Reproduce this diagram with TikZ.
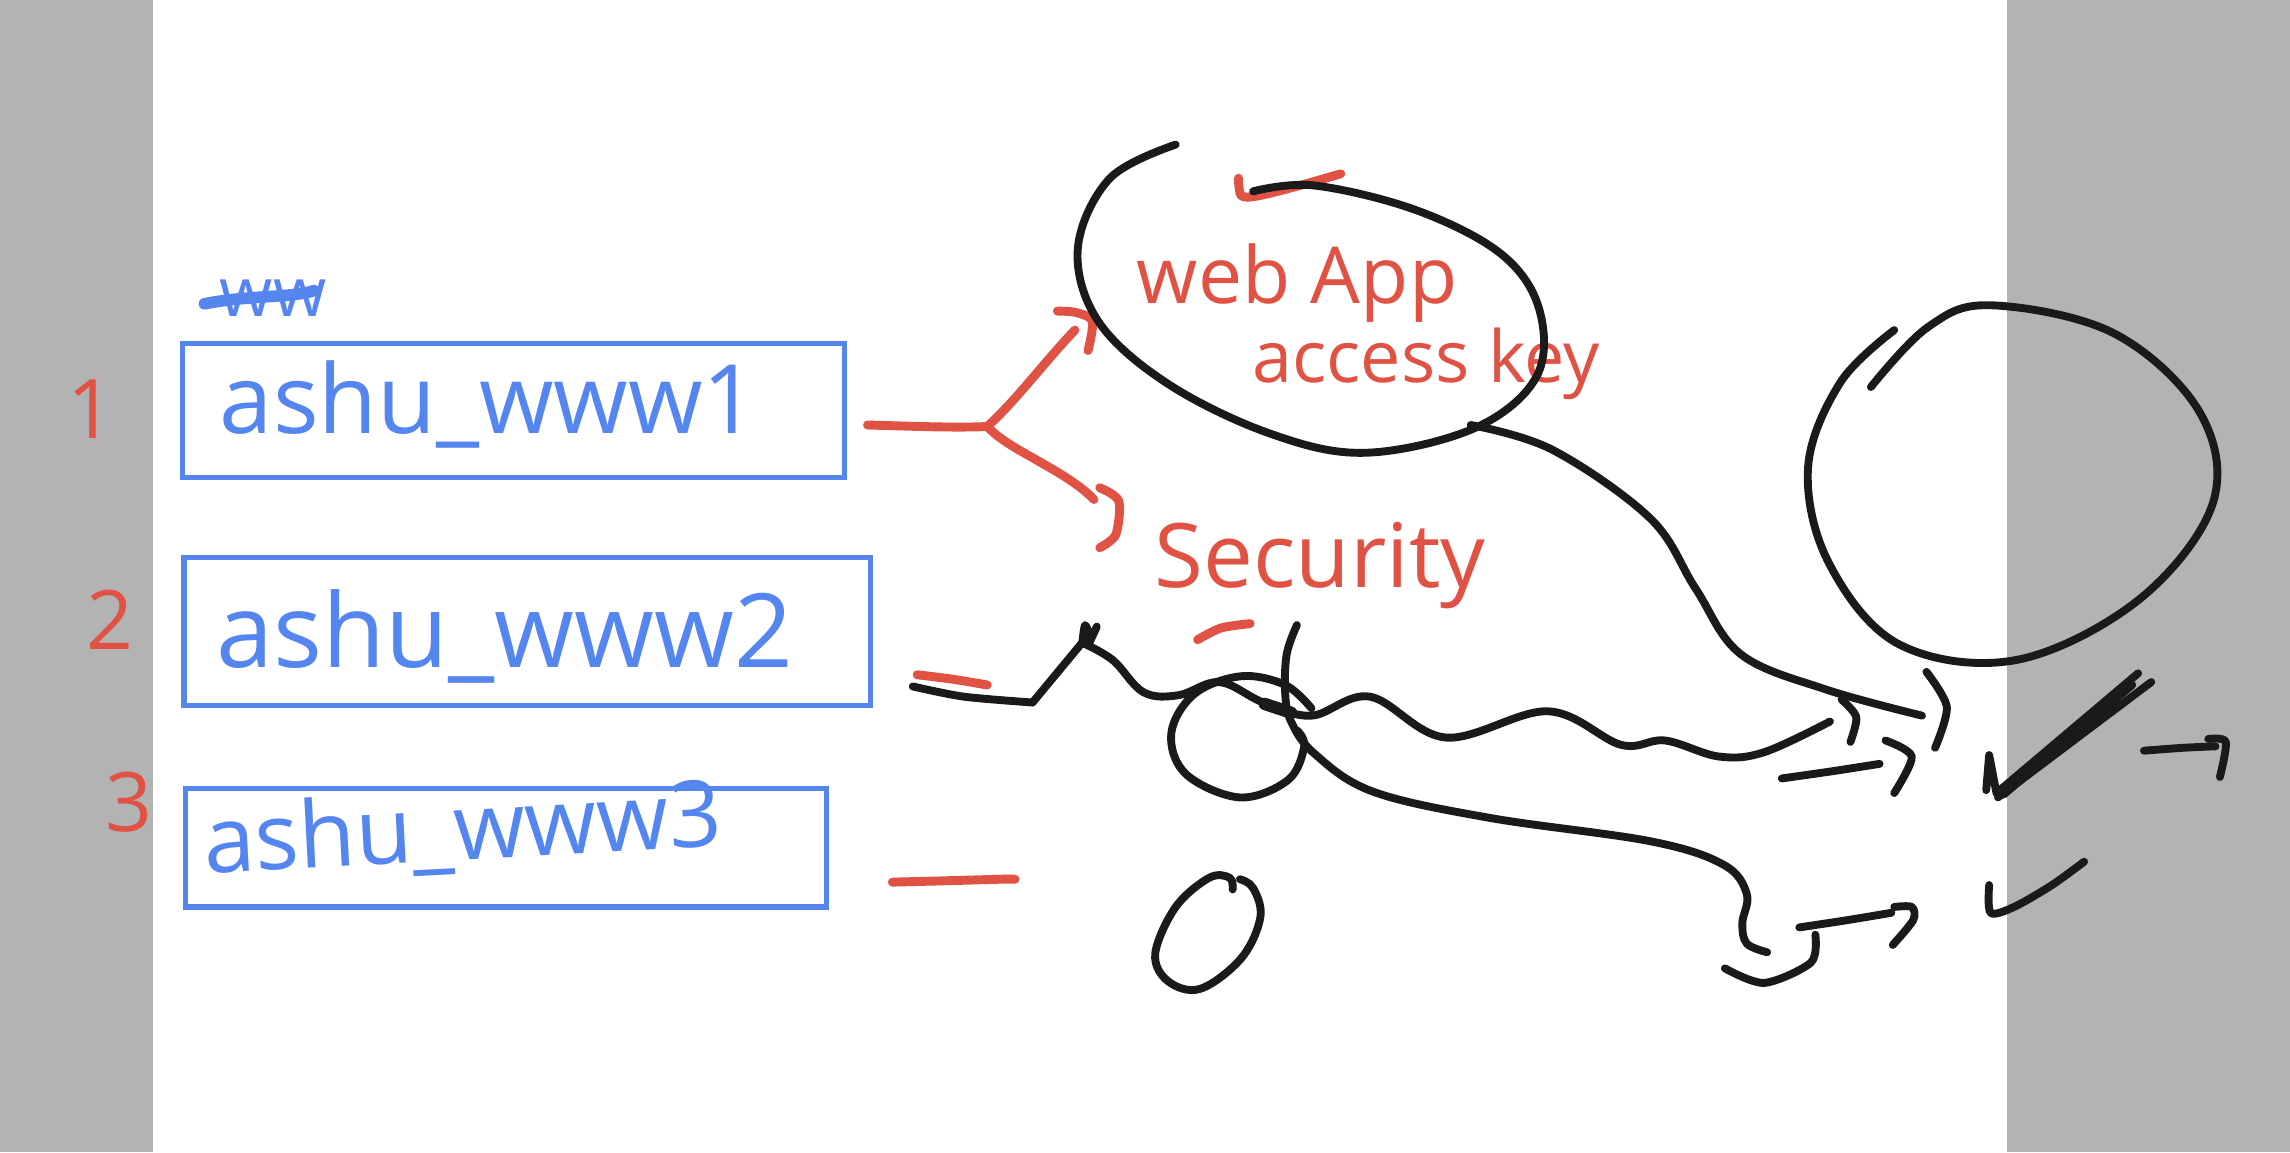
\documentclass[tikz,border=0pt]{standalone}
\usepackage{fontspec}
\setmainfont{Open Sans}
\definecolor{inkblue}{HTML}{5585EE}
\definecolor{inkred}{HTML}{E05243}
\definecolor{ink}{HTML}{1A1A1A}
\definecolor{side}{HTML}{B3B3B3}
\begin{document}
\begin{tikzpicture}[x=0.15mm,y=-0.15mm,
  pen/.style={draw=ink,line width=2.3pt,line cap=round,line join=round},
  redpen/.style={draw=inkred,line width=2.6pt,line cap=round,line join=round},
  box/.style={draw=inkblue,line width=1.5pt,inner sep=0pt,outer sep=0pt},
  bluetext/.style={text=inkblue,inner sep=0pt,anchor=base west},
  redtext/.style={text=inkred,inner sep=0pt,anchor=base west}]
\useasboundingbox (0,0) rectangle (1568,789);
% side bars
\fill[side] (0,0) rectangle (105,789);
\fill[side] (1374,0) rectangle (1568,789);

% blue boxes
\node[box,minimum width=67.95mm,minimum height=13.8mm] (b1) at (351.5,281) {};
\node[box,minimum width=70.5mm,minimum height=15.15mm] (b2) at (361,432.5) {};
\node[box,minimum width=65.85mm,minimum height=12.15mm] (b3) at (346.5,580.5) {};
\node[bluetext,font=\fontsize{28pt}{30pt}\selectfont] (t1) at (150,297) {ashu\_www1};
\node[bluetext,font=\fontsize{30pt}{32pt}\selectfont] (t2) at (148,457) {ashu\_www2};
\node[bluetext,font=\fontsize{27pt}{29pt}\selectfont,rotate=3] (t3) at (140,598) {ashu\_www3};
\node[bluetext,font=\fontsize{20pt}{22pt}\selectfont] (ww) at (150,217) {ww};
\draw[draw=inkblue,line width=3.4pt,line cap=round] (140,208) .. controls (170,202) and (200,204) .. (215,199);

% red numbers
\node[text=inkred,inner sep=0pt,anchor=base,font=\fontsize{24pt}{26pt}\selectfont] (n1) at (62,300) {1};
\node[text=inkred,inner sep=0pt,anchor=base,font=\fontsize{24pt}{26pt}\selectfont] (n2) at (75,445) {2};
\node[text=inkred,inner sep=0pt,anchor=base,font=\fontsize{24pt}{26pt}\selectfont] (n3) at (88,569) {3};

% red labels
\node[redtext,font=\fontsize{23pt}{25pt}\selectfont] (web) at (778,208) {web App};
\node[redtext,font=\fontsize{21pt}{23pt}\selectfont] (key) at (857,262) {access key};
\node[redtext,font=\fontsize{26pt}{28pt}\selectfont] (sec) at (790,402) {Security};

% red connector
\coordinate (rs) at (594,291);
\coordinate (rj) at (676,292);
\coordinate (ru) at (736,226);
\coordinate (rd) at (749,342);
\draw[redpen] (rs) .. controls (630,292) and (655,293) .. (rj);
\draw[redpen] (rj) .. controls (695,275) and (715,248) .. (ru);
\draw[redpen] plot[smooth] coordinates {(724,213)(737,214)(748,220)(745,240)};
\draw[redpen] (rj) .. controls (690,308) and (730,322) .. (rd);
\draw[redpen] plot[smooth] coordinates {(753,334)(766,343)(764,366)(753,375)};
% red marks
\draw[redpen] plot[smooth] coordinates {(848,122)(850,134)(862,134)(890,127)(918,119)};
\draw[redpen] plot[smooth] coordinates {(820,438)(836,430)(856,427)};
\draw[redpen] plot[smooth] coordinates {(628,462)(652,465)(676,469)};
\draw[redpen] plot[smooth] coordinates {(611,604)(650,603)(685,602)(695,602)};

% black: ellipse around web app
\draw[pen] plot[smooth,tension=0.6] coordinates {(805,99)(760,122)(738,170)(752,220)(800,263)(870,297)(935,310)(1010,293)(1052,258)(1054,212)(1028,174)(970,144)(900,127)(858,131)};
% line from ellipse to right
\draw[pen] plot[smooth,tension=0.6] coordinates {(1007,291)(1063,308)(1130,355)(1161,403)(1192,448)(1250,472)(1316,490)};
\draw[pen] plot[smooth] coordinates {(1261,479)(1271,491)(1267,508)};
\draw[pen] plot[smooth] coordinates {(1319,460)(1333,484)(1325,512)};

% wavy line from box 2
\coordinate (w0) at (625,470);
\coordinate (w1) at (707,481);
\coordinate (w2) at (741,440);
\draw[pen] plot[smooth] coordinates {(w0)(660,477)(w1)};
\draw[pen] (w1) -- (w2);
\draw[pen] plot[smooth] coordinates {(741,441)(743,428)(747,436)(751,429)(745,442)};
\draw[pen] plot[smooth,tension=0.6] coordinates {(w2)(762,452)(783,474)(807,476)(835,467)(865,481)(898,490)(938,477)(990,505)(1060,487)(1110,510)(1140,507)(1177,518)(1208,515)(1253,494)};
\draw[ink,line width=3.6pt,line cap=round] (866,482) -- (884,488);
% loop
\draw[pen] plot[smooth,tension=0.6] coordinates {(898,485)(880,469)(850,463)(818,475)(802,502)(812,530)(849,546)(882,534)(893,511)(888,500)};
% vertical stroke and lower curve
\draw[pen] plot[smooth,tension=0.6] coordinates {(888,428)(881,448)(880,475)(884,494)(900,516)(940,542)(1020,560)(1130,576)(1180,592)(1196,612)(1193,632)(1196,646)(1210,652)};
% small zero
\draw[pen] plot[smooth,tension=0.6] coordinates {(844,609)(842,601)(828,601)(805,621)(791,653)(800,672)(822,677)(850,656)(863,628)(858,608)(849,602)};

% right big circle
\draw[pen] plot[smooth,tension=0.6] coordinates {(1281,265)(1320,224)(1363,209)(1447,228)(1506,282)(1515,345)(1464,411)(1380,452)(1300,441)(1252,385)(1238,320)(1260,262)(1297,226)};

% right small strokes
\draw[pen] plot[smooth] coordinates {(1220,533)(1255,528)(1287,523)};
\draw[pen] plot[smooth] coordinates {(1291,507)(1309,518)(1297,543)};
\draw[pen] (1360,541) -- (1362,517) -- (1367,543) -- (1464,461);
\draw[pen] (1368,546) -- (1473,467);
\draw[pen] (1372,544) -- (1460,469);
\draw[pen] plot[smooth] coordinates {(1468,514)(1495,512)(1517,511)};
\draw[pen] plot[smooth] coordinates {(1512,506)(1524,508)(1520,532)};
\draw[pen] plot[smooth] coordinates {(1232,635)(1265,630)(1295,625)};
\draw[pen] plot[smooth] coordinates {(1297,621)(1309,621)(1310,630)(1296,647)};
\draw[pen] plot[smooth] coordinates {(1243,640)(1240,659)(1208,673)(1181,663)};
\draw[pen] plot[smooth] coordinates {(1362,606)(1363,625)(1379,621)(1405,606)(1427,590)};
\end{tikzpicture}
\end{document}
